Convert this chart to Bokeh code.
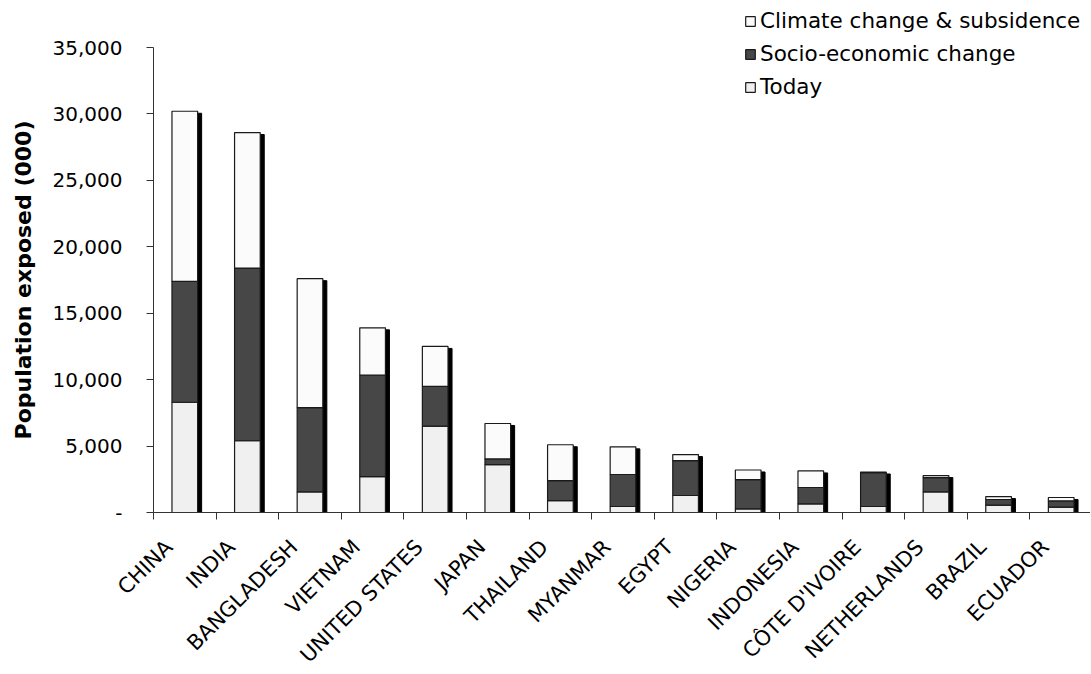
from bokeh.plotting import figure
from bokeh.models import (ColumnDataSource, FixedTicker, NumeralTickFormatter, Range1d,
                          Legend, LegendItem, LabelSet, Label)
from bokeh.core.properties import value
from bokeh.embed import file_html
from bokeh.resources import INLINE
import numpy as np

categories = ["CHINA", "INDIA", "BANGLADESH", "VIETNAM", "UNITED STATES", "JAPAN",
              "THAILAND", "MYANMAR", "EGYPT", "NIGERIA", "INDONESIA", "CÔTE D'IVOIRE",
              "NETHERLANDS", "BRAZIL", "ECUADOR"]
today = [8300, 5400, 1550, 2700, 6500, 3600, 900, 450, 1280, 270, 650, 450, 1550, 550, 400]
socio = [9100, 13000, 6350, 7650, 3000, 430, 1500, 2410, 2620, 2210, 1230, 2550, 1080, 430, 470]
climate = [12800, 10200, 9700, 3550, 3000, 2670, 2700, 2080, 460, 720, 1250, 50, 150, 220, 260]
y_ticks = [0, 5000, 10000, 15000, 20000, 25000, 30000, 35000]
series_names = ["Today", "Socio-economic change", "Climate change & subsidence"]
y_title = "Population exposed (000)"

FONT = "DejaVu Sans"
W, H = 1090, 674
n = len(categories)
x = np.arange(n) + 0.5
total = np.array(today) + np.array(socio) + np.array(climate)

# layout: whole canvas is the frame; axes sit at x=0 / y=0
px_per_cat = 62.6
x_left_px, y0_px, ytop_px = 153.0, 512.0, 47.0
ymax = y_ticks[-1]
px_per_unit = (y0_px - ytop_px) / ymax
x_start = -x_left_px / px_per_cat
x_end = x_start + W / px_per_cat
y_end = ymax + ytop_px / px_per_unit
y_start = -(H - y0_px) / px_per_unit

src = ColumnDataSource(dict(x=x, today=today, socio=socio, climate=climate,
                            xs=x + 0.064, stop=total - 150,
                            cat=categories, y0=[0] * n))

p = figure(width=W, height=H, output_backend="svg", toolbar_location=None,
           x_range=Range1d(x_start, x_end), y_range=Range1d(y_start, y_end),
           min_border=0)
p.outline_line_color = None
p.grid.grid_line_color = None
p.background_fill_color = "white"

# shadow
p.vbar(x="xs", top="stop", bottom=0, width=0.41, source=src,
       fill_color="black", line_color="black")

rs = p.vbar_stack(["today", "socio", "climate"], x="x", width=0.41, source=src,
                  fill_color=["#f0f0f0", "#474747", "#fbfbfb"],
                  line_color="#1a1a1a", line_width=1.2)

legend = Legend(items=[LegendItem(label=series_names[2], renderers=[rs[2]]),
                       LegendItem(label=series_names[1], renderers=[rs[1]]),
                       LegendItem(label=series_names[0], renderers=[rs[0]])],
                location=(744, 575))
legend.label_text_font = FONT
legend.label_text_font_size = "21.5px"
legend.label_text_color = "black"
legend.glyph_width = 12
legend.glyph_height = 12
legend.label_standoff = 4
legend.label_height = 20
legend.spacing = 8
legend.padding = 0
legend.margin = 0
legend.border_line_alpha = 0
legend.background_fill_alpha = 0
p.add_layout(legend)

# y axis
ya = p.yaxis[0]
ya.fixed_location = 0
ya.ticker = FixedTicker(ticks=y_ticks)
ya.bounds = (0, ymax)
ya.formatter = NumeralTickFormatter(format="0,0")
ya.major_label_overrides = {0: "-"}
ya.major_tick_out = 7
ya.major_tick_in = 0
ya.minor_tick_line_color = None
ya.major_label_standoff = 24
ya.major_label_text_font = FONT
ya.major_label_text_font_size = "20px"
ya.major_label_text_color = "black"
ya.axis_line_color = "#333333"
ya.major_tick_line_color = "#333333"

p.add_layout(Label(x=(23 - x_left_px) / px_per_cat, y=ymax / 2, text=y_title,
                   angle=np.pi / 2, text_align="center", text_baseline="middle",
                   text_font=FONT, text_font_style="bold", text_font_size="22px",
                   text_color="black"))

# x axis: tick marks at category boundaries
xa = p.xaxis[0]
xa.fixed_location = 0
xa.bounds = (0, n)
xa.ticker = FixedTicker(ticks=[], minor_ticks=list(range(n + 1)))
xa.major_label_text_font_size = "0px"
xa.major_tick_out = 0
xa.major_tick_in = 0
xa.minor_tick_out = 7
xa.minor_tick_in = 0
xa.minor_tick_line_color = "#333333"
xa.axis_line_color = "#333333"

p.add_layout(LabelSet(x="x", y="y0", text="cat", source=src, angle=np.pi / 4,
                      x_offset=-11, y_offset=-36,
                      text_align="right", text_baseline="alphabetic",
                      text_font=value(FONT), text_font_size=value("21px"),
                      text_color="black"))

open("out.html", "w").write(file_html(p, INLINE))
